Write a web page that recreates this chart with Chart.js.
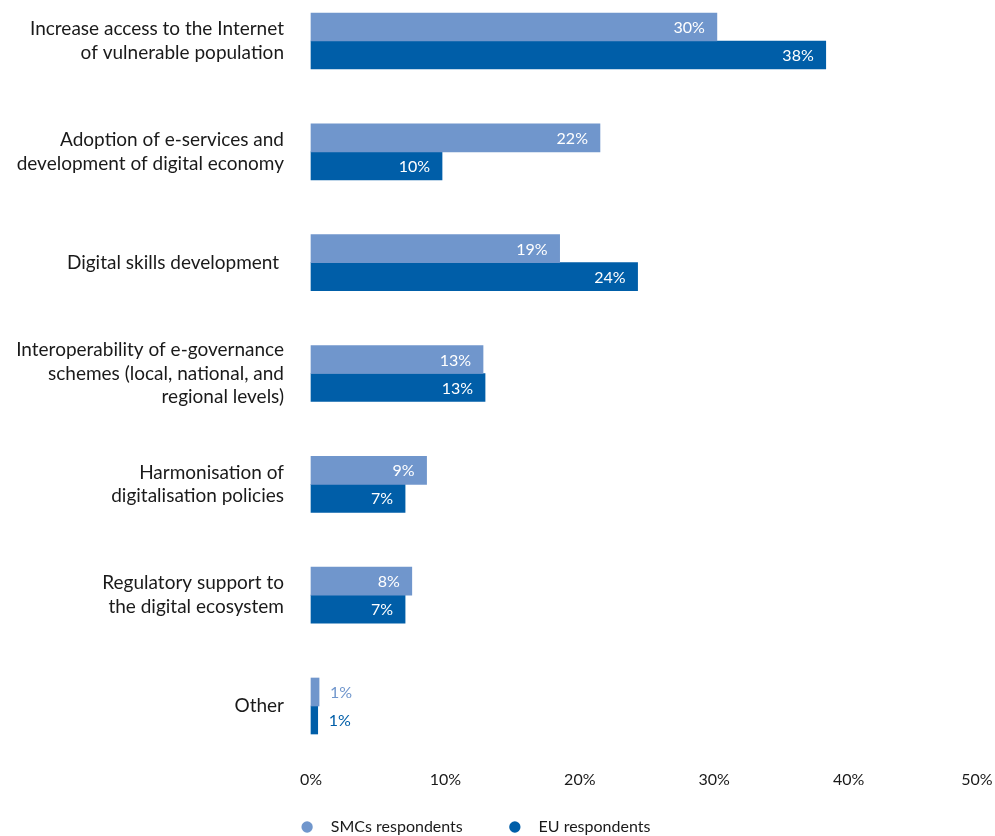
<!DOCTYPE html>
<html>
<head>
<meta charset="utf-8">
<script src="https://cdn.jsdelivr.net/npm/chart.js@4"></script>
<style>
  html, body { margin:0; padding:0; background:#fff; overflow:hidden; }
  #wrap { width:995px; height:845px; }
</style>
</head>
<body>
<div id="wrap"><canvas id="chart" width="995" height="845"></canvas></div>
<script>
// categorias e séries
const categories = [
  ['Increase access to the Internet', 'of vulnerable population'],
  ['Adoption of e-services and', 'development of digital economy'],
  'Digital skills development ',
  ['Interoperability of e-governance', 'schemes (local, national, and', 'regional levels)'],
  ['Harmonisation of', 'digitalisation policies'],
  ['Regulatory support to', 'the digital ecosystem'],
  'Other'
];
const smcValues = [30.2, 21.5, 18.5, 12.8, 8.6, 7.5, 0.6];
const euValues  = [38.3, 9.75, 24.3, 12.95, 7.0, 7.0, 0.5];
const smcLabels = ['30%', '22%', '19%', '13%', '9%', '8%', '1%'];
const euLabels  = ['38%', '10%', '24%', '13%', '7%', '7%', '1%'];
const xTicks    = [0, 10, 20, 30, 40, 50];

const LIGHT = '#7096cc';
const DARK  = '#005ea8';
const FONT  = 'Lato, "Noto Sans", sans-serif';

// rótulos de valor: dentro da barra (branco) ou fora quando a barra é curta
const valueLabels = {
  id: 'valueLabels',
  afterDatasetsDraw(chart){
    const ctx = chart.ctx;
    ctx.save();
    ctx.font = `16px ${FONT}`;
    ctx.textBaseline = 'middle';
    chart.data.datasets.forEach((ds, di) => {
      const meta = chart.getDatasetMeta(di);
      meta.data.forEach((bar, i) => {
        const txt = ds.valueText[i];
        if (ds.data[i] < 3){
          ctx.fillStyle = ds.backgroundColor;
          ctx.textAlign = 'left';
          ctx.fillText(txt, bar.x + 11, bar.y + 1);
        } else {
          ctx.fillStyle = '#ffffff';
          ctx.textAlign = 'right';
          ctx.fillText(txt, bar.x - 12, bar.y + 1);
        }
      });
    });
    ctx.restore();
  }
};

// legenda um pouco à esquerda, como no original
const legendShift = {
  id: 'legendShift',
  afterLayout(chart){
    if (chart.legend) chart.legend.right -= 33;
  }
};

new Chart(document.getElementById('chart'), {
  type: 'bar',
  data: {
    labels: categories,
    datasets: [
      { label: '  SMCs respondents      ', data: smcValues, valueText: smcLabels,
        backgroundColor: LIGHT, borderWidth: 0, barThickness: 28, clip: false },
      { label: '  EU respondents', data: euValues, valueText: euLabels,
        backgroundColor: DARK, borderWidth: 0, barThickness: 28, clip: false }
    ]
  },
  options: {
    indexAxis: 'y',
    responsive: false,
    animation: false,
    devicePixelRatio: 1,
    layout: { padding: { top: 41, right: 12, left: 0, bottom: 0 } },
    scales: {
      x: {
        min: 0, max: 50,
        afterBuildTicks: s => { s.ticks = xTicks.map(v => ({ value: v })); },
        afterFit: s => {
          s.height = 845 - 46 - 41 - 665;
          s.paddingLeft = 0;
          s.paddingRight = 0;
        },
        grid: { display: false, drawTicks: true, tickLength: 64 },
        border: { display: false },
        ticks: {
          padding: 0,
          color: '#1a1a1a',
          font: { family: FONT, size: 16 },
          // o último rótulo fica recolhido para caber na borda
          callback: v => v === 50 ? v + '%   ' : v + '%'
        }
      },
      y: {
        offset: false,
        afterFit: s => { s.width = 311; },
        grid: { display: false, drawTicks: false },
        border: { display: false },
        ticks: {
          padding: 27,
          color: '#1a1a1a',
          font: { family: FONT, size: 19, lineHeight: 1.25 }
        }
      }
    },
    plugins: {
      tooltip: { enabled: false },
      legend: {
        position: 'bottom',
        labels: {
          usePointStyle: true,
          pointStyle: 'circle',
          boxWidth: 15,
          boxHeight: 8,
          padding: 20,
          color: '#1a1a1a',
          font: { family: FONT, size: 16 }
        }
      }
    }
  },
  plugins: [valueLabels, legendShift]
});
</script>
</body>
</html>
